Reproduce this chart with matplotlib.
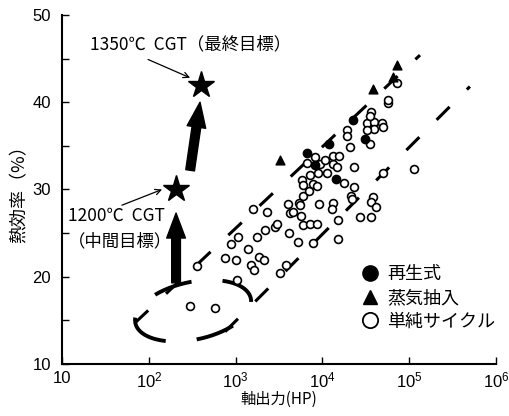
import numpy as np
import matplotlib.pyplot as plt
from matplotlib.lines import Line2D

plt.rcParams['font.family'] = ['Noto Sans CJK JP', 'DejaVu Sans']
plt.rcParams['mathtext.fontset'] = 'custom'
plt.rcParams['mathtext.rm'] = 'Liberation Sans'

# 単純サイクル (open circles)
simple_x = [300, 580, 360, 1040, 755, 1010, 885, 1065, 1390, 1500,
            1630, 1860, 2125, 1765, 2180, 2840, 3000, 1585, 2300, 3250,
            3810, 4020, 4240, 4120, 5230, 4580, 5370, 5520, 5970, 7010,
            5660, 5970, 7190, 8670, 7800, 15100, 9140, 13240, 12900, 15100,
            27100, 36300, 38300, 36300, 41500, 21400, 21900, 23100, 17700, 23100,
            49900, 113500, 5820, 5970, 7800, 8670, 7190, 8900, 11300, 6650,
            9380, 13240, 14700, 8220, 10700, 13240, 15500, 20800, 19200, 19200,
            32700, 39300, 48600, 49900, 39300, 32700, 35300, 36300, 35300, 57000,
            57000, 72400]
simple_y = [16.6, 16.4, 21.2, 19.6, 22.1, 21.9, 23.7, 24.6, 23.2, 21.3,
            20.8, 22.3, 21.9, 24.5, 25.4, 25.7, 26.1, 27.8, 27.4, 20.4,
            21.3, 28.3, 27.3, 25.0, 24.0, 27.4, 28.5, 28.2, 29.2, 29.8,
            27.0, 25.9, 26.1, 26.0, 23.9, 24.3, 28.3, 28.5, 27.8, 26.5,
            26.9, 26.8, 29.1, 28.6, 28.0, 29.3, 28.9, 30.3, 30.8, 32.6,
            31.9, 32.4, 31.1, 30.5, 30.6, 30.4, 31.7, 31.9, 31.9, 33.0,
            32.9, 32.9, 32.6, 33.7, 33.4, 33.8, 33.8, 34.9, 36.8, 36.1,
            37.6, 37.7, 37.6, 37.2, 36.9, 36.8, 35.2, 38.9, 38.4, 39.9,
            40.3, 42.2]

# 再生式 (filled circles)
regen_x = [6650, 8220, 11900, 14350, 22500, 31000]
regen_y = [34.2, 32.8, 35.2, 31.2, 38.0, 35.8]

# 蒸気抽入 (triangles)
steam_x = [3250, 38300, 65000, 72400]
steam_y = [33.4, 41.5, 42.9, 44.3]

# CGT targets (1200℃, 1350℃)
cgt_x = [206, 400]
cgt_y = [30.0, 42.0]

# dashed trend lines
upper_x = [69, 133000]
upper_y = [14.7, 45.4]
lower_x = [755, 500000]
lower_y = [13.7, 41.8]

# dashed ellipse around the small machines (log10 centre, %)
ell_logc, ell_yc = 2.51, 16.1
ell_a, ell_b, ell_tilt = 0.68, 0.33, 12

xticks = [10, 1e2, 1e3, 1e4, 1e5, 1e6]
xticklabels = ['10', r'$\mathregular{10^2}$', r'$\mathregular{10^3}$',
               r'$\mathregular{10^4}$', r'$\mathregular{10^5}$', r'$\mathregular{10^6}$']

fig = plt.figure(figsize=(5.1, 4.16), dpi=100)
ax = fig.add_axes([0.1216, 0.125, 0.851, 0.839])

ax.set_xscale('log')
ax.set_xlim(10, 1e6)
ax.set_ylim(10, 50)

# trend lines
ax.plot(upper_x, upper_y, color='black', lw=2.2, dashes=(6, 8), zorder=3)
ax.plot(lower_x, lower_y, color='black', lw=2.2, dashes=(6, 8), zorder=3)

# ellipse
t = np.linspace(np.pi - 0.05, 3 * np.pi - 0.05, 200)
u = ell_a * np.cos(t)
v = ell_b * np.sin(t)
th = np.radians(ell_tilt)
ex = 10 ** (ell_logc + u * np.cos(th) - v * np.sin(th))
ey = ell_yc + 10 * (u * np.sin(th) + v * np.cos(th))
ax.plot(ex, ey, color='black', lw=2.8, dashes=(10, 8))

# data
ax.scatter(simple_x, simple_y, s=32, facecolors='white', edgecolors='black',
           linewidths=1.2, zorder=4)
ax.scatter(regen_x, regen_y, s=36, color='black', zorder=5)
ax.scatter(steam_x, steam_y, s=40, marker='^', color='black', zorder=5)

# targets
ax.plot(cgt_x, cgt_y, linestyle='none', marker='*', ms=20, color='black', zorder=6)

thick = dict(arrowstyle='simple,head_length=1.0,head_width=0.75,tail_width=0.35',
             mutation_scale=18, color='black', shrinkA=0, shrinkB=0)
ax.annotate('', xy=(206, 27.3), xytext=(206, 19.3), arrowprops=thick)
ax.annotate('', xy=(389, 40.0), xytext=(299, 32.2), arrowprops=thick)

thin = dict(arrowstyle='->', color='black', lw=0.9, shrinkA=0, shrinkB=0)
ax.annotate('', xy=(299, 42.8), xytext=(98, 44.9), arrowprops=thin)
ax.annotate('', xy=(142, 30.0), xytext=(49, 28.2), arrowprops=thin)

ax.text(21, 46.6, '1350℃  CGT（最終目標）', fontsize=12.5, va='center', ha='left')
ax.text(11.7, 27.0, '1200℃  CGT', fontsize=12.5, va='center', ha='left')
ax.text(11.7, 24.1, '（中間目標）', fontsize=12.5, va='center', ha='left')

# axes styling
for side in ['top', 'right']:
    ax.spines[side].set_visible(False)
for side in ['left', 'bottom']:
    ax.spines[side].set_linewidth(1.5)

ax.set_xticks(xticks)
ax.set_xticklabels(xticklabels, fontfamily='Liberation Sans', fontsize=12)
ax.xaxis.set_minor_locator(plt.NullLocator())
ax.set_yticks([10, 20, 30, 40, 50])
ax.set_yticks([15, 25, 35, 45], minor=True)
ax.set_yticklabels(['10', '20', '30', '40', '50'], fontfamily='Liberation Sans', fontsize=12)
ax.tick_params(axis='both', which='both', direction='in', length=5, width=1.0)
ax.tick_params(axis='y', pad=8)
ax.tick_params(axis='x', pad=5)

ax.set_xlabel('軸出力(HP)', fontsize=11, labelpad=0)
ax.set_ylabel('熱効率（%）', fontsize=13, labelpad=3)

handles = [Line2D([], [], ls='none', marker='o', ms=11, color='black'),
           Line2D([], [], ls='none', marker='^', ms=10, color='black'),
           Line2D([], [], ls='none', marker='o', ms=11, mfc='white', mec='black', mew=1.3)]
ax.legend(handles, ['再生式', '蒸気抽入', '単純サイクル'], loc='upper left',
          bbox_to_anchor=(0.652, 0.33), frameon=False, fontsize=13,
          handlelength=1.0, handletextpad=0.45, labelspacing=0.32)

fig.savefig('out.png', dpi=100)
